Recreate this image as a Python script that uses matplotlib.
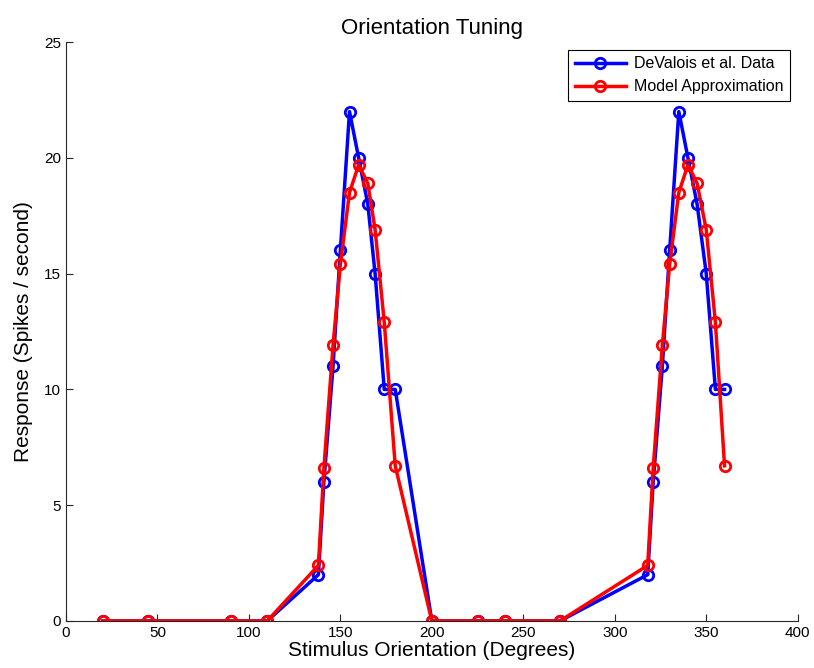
import matplotlib
matplotlib.use('Agg')
import matplotlib.pyplot as plt

plt.rcParams['font.family'] = ['Liberation Sans', 'DejaVu Sans']

# stimulus orientation (degrees)
orientation = [20, 45, 90, 110, 138, 141, 146, 150, 155, 160, 165, 169, 174, 180,
               200, 225, 240, 270, 318, 321, 326, 330, 335, 340, 345, 350, 355, 360]
# DeValois et al. data (spikes / second)
devalois = [0, 0, 0, 0, 2, 6, 11, 16, 22, 20, 18, 15, 10, 10,
            0, 0, 0, 0, 2, 6, 11, 16, 22, 20, 18, 15, 10, 10]
# model approximation
model = [0, 0, 0, 0, 2.4, 6.6, 11.9, 15.4, 18.5, 19.7, 18.9, 16.9, 12.9, 6.7,
         0, 0, 0, 0, 2.4, 6.6, 11.9, 15.4, 18.5, 19.7, 18.9, 16.9, 12.9, 6.7]

fig = plt.figure(figsize=(8.14, 6.68), dpi=100)
ax = fig.add_axes([0.081, 0.0704, 0.899, 0.8666])

ax.plot(orientation, devalois, '-o', color='#0000ff', lw=2.5, ms=7.5,
        mfc='none', mew=2, label='DeValois et al. Data')
ax.plot(orientation, model, '-o', color='#ff0000', lw=2.5, ms=7.5,
        mfc='none', mew=2, label='Model Approximation')

ax.set_xlim(0, 400)
ax.set_ylim(0, 25)
ax.set_xticks(range(0, 401, 50))
ax.set_yticks(range(0, 26, 5))
ax.tick_params(direction='in', labelsize=11, length=5, width=0.8, colors='#262626',
               labelcolor='black')
for s in ['left', 'bottom']:
    ax.spines[s].set_color('#262626')
ax.spines['top'].set_visible(False)
ax.spines['right'].set_visible(False)

ax.set_title('Orientation Tuning', fontsize=16, pad=6)
ax.set_xlabel('Stimulus Orientation (Degrees)', fontsize=15, labelpad=1)
ax.set_ylabel('Response (Spikes / second)', fontsize=15, labelpad=8)

leg = ax.legend(loc='upper right', fontsize=11.5, fancybox=False, framealpha=1,
                edgecolor='black', borderaxespad=0.5, handlelength=3.2,
                handletextpad=0.5, borderpad=0.4, labelspacing=0.5)
leg.get_frame().set_linewidth(0.8)

fig.savefig('out.png', dpi=100)
